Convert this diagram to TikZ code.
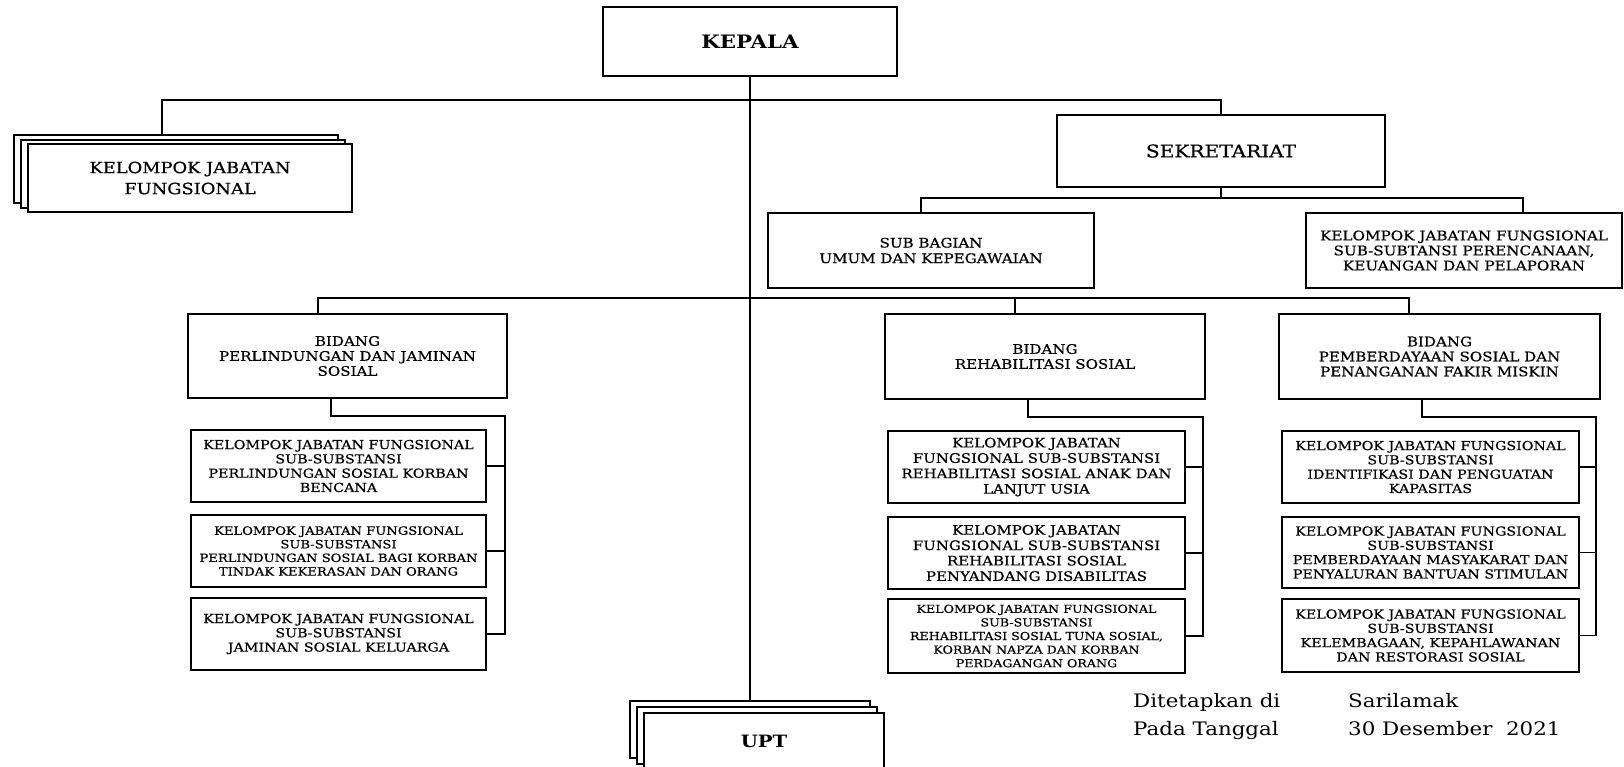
\documentclass[tikz,border=0pt]{standalone}
\usepackage{fontspec}
\setmainfont{DejaVu Serif}[FakeStretch=1.15]
\newfontfamily\boxfont{DejaVu Serif}[FakeStretch=1.15, FakeBold=0.6]
\begin{document}
\begin{tikzpicture}[x=1pt,y=-1pt,
  box/.style={draw, line width=1.6pt, fill=white, rectangle, inner sep=0pt, align=center},
  conn/.style={line width=1.4pt},
  fA/.style={font=\boxfont\fontsize{12.4}{14.3}\selectfont},
  fB/.style={font=\boxfont\fontsize{13}{15.4}\selectfont},
  fC/.style={font=\boxfont\fontsize{11}{13.6}\selectfont},
  fD/.style={font=\boxfont\fontsize{11.4}{13.6}\selectfont},
  fBid/.style={font=\boxfont\fontsize{13.1}{15}\selectfont},
  fSig/.style={font=\fontsize{18.6}{20}\selectfont, inner sep=0pt},
  subL/.style={box, minimum width=295pt, minimum height=72pt},
  subR/.style={box, minimum width=297pt, minimum height=72pt},
  bid/.style={box, fBid, minimum width=320pt, minimum height=85pt},
  stack/.style={box, minimum width=324pt, minimum height=68pt},
  ustack/.style={box, minimum width=240pt, minimum height=57pt}
]
\fill[white] (0,0) rectangle (1624,766);
\useasboundingbox (0,0) rectangle (1624,766);

% KEPALA
\node[box, minimum width=294pt, minimum height=69pt, font=\fontsize{18.5}{20}\selectfont\bfseries] (kepala) at (750,41.5) {KEPALA};

% Kelompok jabatan fungsional stack
\node[stack] (kjfA) at (176,169) {};
\node[stack] (kjfB) at (183,174) {};
\node[stack, font=\boxfont\fontsize{15.5}{21}\selectfont] (kjf) at (190,178) {KELOMPOK JABATAN\\FUNGSIONAL};

% Sekretariat
\node[box, minimum width=328pt, minimum height=72pt, font=\boxfont\fontsize{17.5}{19}\selectfont] (sek) at (1221,151) {SEKRETARIAT};
\node[box, minimum width=326pt, minimum height=75pt, font=\boxfont\fontsize{13.1}{15.5}\selectfont] (subbag) at (931,250.5) {SUB BAGIAN\\UMUM DAN KEPEGAWAIAN};
\node[box, minimum width=316pt, minimum height=75pt, font=\boxfont\fontsize{13.2}{15}\selectfont] (kjfp) at (1464,250.5) {KELOMPOK JABATAN FUNGSIONAL\\SUB-SUBTANSI PERENCANAAN,\\KEUANGAN DAN PELAPORAN};

% Bidang
\node[bid, minimum width=319pt, minimum height=84pt] (bid1) at (347.5,356) {BIDANG\\PERLINDUNGAN DAN JAMINAN\\SOSIAL};
\node[bid] (bid2) at (1045,356.5) {BIDANG\\REHABILITASI SOSIAL};
\node[bid, minimum width=321pt] (bid3) at (1439.5,356.5) {BIDANG\\PEMBERDAYAAN SOSIAL DAN\\PENANGANAN FAKIR MISKIN};

% Left column
\node[subL, fA] (l1) at (338.5,466) {KELOMPOK JABATAN FUNGSIONAL\\SUB-SUBSTANSI\\PERLINDUNGAN SOSIAL KORBAN\\BENCANA};
\node[subL, fD] (l2) at (338.5,551) {KELOMPOK JABATAN FUNGSIONAL\\SUB-SUBSTANSI\\PERLINDUNGAN SOSIAL BAGI KORBAN\\TINDAK KEKERASAN DAN ORANG};
\node[subL, fA] (l3) at (338.5,634) {KELOMPOK JABATAN FUNGSIONAL\\SUB-SUBSTANSI\\JAMINAN SOSIAL KELUARGA};

% Middle column
\node[subR, fB] (m1) at (1036.5,467) {KELOMPOK JABATAN\\FUNGSIONAL SUB-SUBSTANSI\\REHABILITASI SOSIAL ANAK DAN\\LANJUT USIA};
\node[subR, fB] (m2) at (1036.5,553) {KELOMPOK JABATAN\\FUNGSIONAL SUB-SUBSTANSI\\REHABILITASI SOSIAL\\PENYANDANG DISABILITAS};
\node[subR, fC, minimum height=74pt] (m3) at (1036.5,636) {KELOMPOK JABATAN FUNGSIONAL\\SUB-SUBSTANSI\\REHABILITASI SOSIAL TUNA SOSIAL,\\KORBAN NAPZA DAN KORBAN\\PERDAGANGAN ORANG};

% Right column
\node[subR, fA] (r1) at (1430.5,467) {KELOMPOK JABATAN FUNGSIONAL\\SUB-SUBSTANSI\\IDENTIFIKASI DAN PENGUATAN\\KAPASITAS};
\node[subR, fA, minimum height=71pt] (r2) at (1430.5,552.5) {KELOMPOK JABATAN FUNGSIONAL\\SUB-SUBSTANSI\\PEMBERDAYAAN MASYAKARAT DAN\\PENYALURAN BANTUAN STIMULAN};
\node[subR, fA, minimum height=73pt] (r3) at (1430.5,635.5) {KELOMPOK JABATAN FUNGSIONAL\\SUB-SUBSTANSI\\KELEMBAGAAN, KEPAHLAWANAN\\DAN RESTORASI SOSIAL};

% UPT stack
\node[ustack] (uptA) at (750,729.5) {};
\node[ustack] (uptB) at (757,735.5) {};
\node[ustack, font=\fontsize{17}{20}\selectfont\bfseries] (upt) at (764,741.5) {UPT};

% Signature text
\node[fSig, anchor=base west] (sig1) at (1133,707) {Ditetapkan di};
\node[fSig, anchor=base west] (sig2) at (1348,707) {Sarilamak};
\node[fSig, anchor=base west] (sig3) at (1133,735) {Pada Tanggal};
\node[fSig, anchor=base west] (sig4) at (1348,735) {30 Desember\ \ 2021};

% Connectors
\coordinate (top) at (750,100);
\coordinate (kjfTop) at ([xshift=-14pt]kjfA.north);
\draw[conn] (kepala.south) -- (uptA.north);
\draw[conn] (kjfTop) |- (top) -| (sek.north);

\coordinate (sj) at (1221,198);
\coordinate (sbTop) at ([xshift=-10pt]subbag.north);
\coordinate (kpTop) at ([xshift=59pt]kjfp.north);
\draw[conn] (sek.south) -- (sj);
\draw[conn] (sbTop) |- (sj) -| (kpTop);

\coordinate (mj) at (750,298);
\coordinate (b1t) at ([xshift=-29.5pt]bid1.north);
\coordinate (b2t) at ([xshift=-30pt]bid2.north);
\coordinate (b3t) at ([xshift=-30.5pt]bid3.north);
\draw[conn] (b1t) |- (mj) -| (b3t);
\draw[conn] (b2t) -- (b2t |- mj);

% Brackets
\coordinate (b1b) at ([xshift=-16.5pt]bid1.south);
\coordinate (b1r) at (505,416);
\draw[conn] (b1b) |- (b1r) |- (l3.east);
\draw[conn] (l1.east) -- (l1.east -| b1r);
\draw[conn] (l2.east) -- (l2.east -| b1r);

\coordinate (b2b) at ([xshift=-17pt]bid2.south);
\coordinate (b2r) at (1203,417);
\draw[conn] (b2b) |- (b2r) |- (m3.east);
\draw[conn] (m1.east) -- (m1.east -| b2r);
\draw[conn] (m2.east) -- (m2.east -| b2r);

\coordinate (b3b) at ([xshift=-17.5pt]bid3.south);
\coordinate (b3r) at (1596,417);
\draw[conn] (b3b) |- (b3r) |- (r3.east);
\draw[conn] (r1.east) -- (r1.east -| b3r);
\draw[conn] (r2.east) -- (r2.east -| b3r);
\end{tikzpicture}
\end{document}
